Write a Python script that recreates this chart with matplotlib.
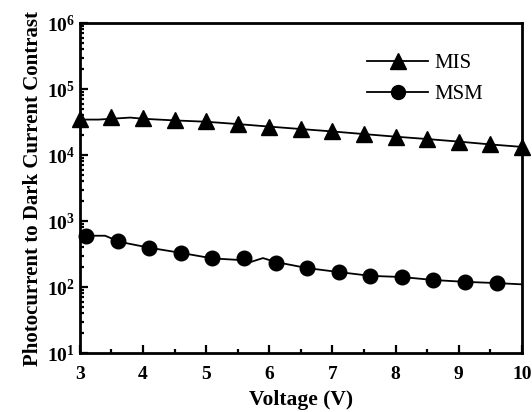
import matplotlib
matplotlib.use("Agg")
import matplotlib.pyplot as plt
from matplotlib.ticker import LogLocator, MultipleLocator, NullFormatter

# marker points
mis_v = [3.0, 3.5, 4.0, 4.5, 5.0, 5.5, 6.0, 6.5, 7.0, 7.5, 8.0, 8.5, 9.0, 9.5, 10.0]
mis_c = [35000, 38000, 36000, 34000, 32500, 30000, 27000, 25000, 23000,
         21000, 19000, 17500, 16000, 14500, 13300]

msm_v = [3.1, 3.6, 4.1, 4.6, 5.1, 5.6, 6.1, 6.6, 7.1, 7.6, 8.1, 8.6, 9.1, 9.6]
msm_c = [593, 498, 390, 327, 272, 278, 231, 194, 169, 147, 142, 126, 119, 114]

# traced lines (denser than the markers)
mis_line_v = [3.0, 3.3, 3.5, 3.8, 4.0, 4.5, 5.0, 5.5, 6.0, 6.5, 7.0, 7.5, 8.0, 8.5, 9.0, 9.5, 10.0]
mis_line_c = [34500, 34500, 35500, 37000, 35500, 33500, 32000, 29500, 27000,
              24800, 22800, 20800, 19000, 17500, 16000, 14500, 13300]

msm_line_v = [3.0, 3.4, 3.6, 3.75, 4.1, 4.6, 5.1, 5.6, 5.7, 5.9, 6.1, 6.6,
              7.1, 7.6, 8.1, 8.6, 9.1, 9.6, 10.0]
msm_line_c = [600, 600, 500, 460, 395, 330, 272, 255, 239, 275, 240, 194,
              169, 148, 142, 128, 120, 115, 110]

plt.rcParams['font.family'] = ['Liberation Serif', 'DejaVu Serif']
plt.rcParams['mathtext.fontset'] = 'custom'
plt.rcParams['mathtext.rm'] = 'Liberation Serif:bold'
plt.rcParams['mathtext.bf'] = 'Liberation Serif:bold'

fig = plt.figure(figsize=(5.32, 4.12), dpi=100)
ax = fig.add_axes([0.150, 0.143, 0.831, 0.801])

ax.plot(mis_line_v, mis_line_c, color='black', lw=1.3)
ax.plot(msm_line_v, msm_line_c, color='black', lw=1.3)
ax.plot(mis_v, mis_c, ls='none', marker='^', ms=12, color='black', clip_on=False)
ax.plot(msm_v, msm_c, ls='none', marker='o', ms=10.5, color='black', clip_on=False)

# legend entries as proxies
ax.plot([], [], color='black', lw=1.3, marker='^', ms=11, label='MIS')
ax.plot([], [], color='black', lw=1.3, marker='o', ms=10, label='MSM')
leg = ax.legend(loc='upper right', bbox_to_anchor=(0.955, 0.965), frameon=False,
                fontsize=15, handlelength=2.95, handletextpad=0.3, labelspacing=0.55)

ax.set_yscale('log')
ax.set_xlim(3, 10)
ax.set_ylim(10, 1e6)
ax.xaxis.set_major_locator(MultipleLocator(1))
ax.xaxis.set_minor_locator(MultipleLocator(0.5))
ax.yaxis.set_major_locator(LogLocator(base=10))
ax.yaxis.set_minor_locator(LogLocator(base=10, subs=range(2, 10)))
ax.yaxis.set_minor_formatter(NullFormatter())

ax.tick_params(which='both', direction='in', top=False, right=False,
               labelsize=14, width=1.6)
ax.tick_params(axis='x', pad=9)
ax.tick_params(which='major', length=6)
ax.tick_params(which='minor', length=3)
for lab in ax.get_xticklabels() + ax.get_yticklabels():
    lab.set_fontweight('bold')
for sp in ax.spines.values():
    sp.set_linewidth(2)

ax.set_xlabel('Voltage (V)', fontsize=15.5, fontweight='bold', labelpad=5)
ax.set_ylabel('Photocurrent to Dark Current Contrast', fontsize=15,
              fontweight='bold', labelpad=3)

fig.savefig('out.png', dpi=100)
